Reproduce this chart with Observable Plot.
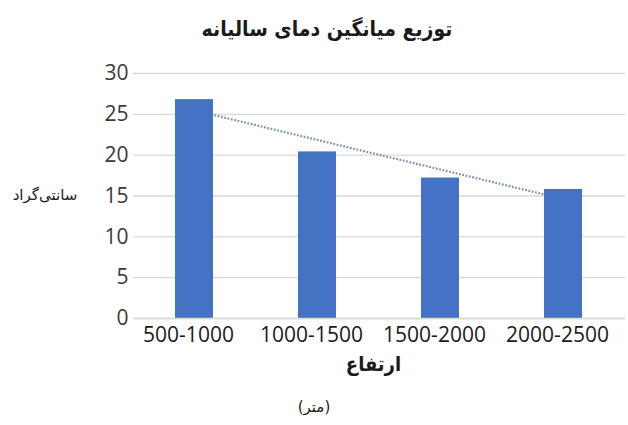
<!DOCTYPE html>
<html>
<head>
<meta charset="utf-8">
<script src="https://cdn.jsdelivr.net/npm/d3@7"></script>
<script src="https://cdn.jsdelivr.net/npm/@observablehq/plot@0.6"></script>
<style>
  html, body { margin: 0; padding: 0; background: #fff; }
  #wrap { width: 628px; height: 425px; position: relative; overflow: hidden; }
  #title { height: 50px; line-height: 58px; text-align: center; font-family: "DejaVu Sans Condensed", "DejaVu Sans", sans-serif; font-weight: bold; font-size: 21px; color: #1a1a1a; direction: rtl; padding-left: 26px; box-sizing: border-box; }
  #caption { text-align: center; font-family: "DejaVu Sans", sans-serif; font-size: 15px; color: #1a1a1a; direction: rtl; margin-top: 13px; }
  #ylabel { position: absolute; left: 4px; top: 186px; width: 82px; text-align: center; font-family: "DejaVu Sans", sans-serif; font-size: 15px; color: #1a1a1a; direction: rtl; white-space: nowrap; }
</style>
</head>
<body>
<div id="wrap">
  <div id="title"></div>
  <div id="chart"></div>
  <div id="caption"></div>
  <div id="ylabel"></div>
</div>
<script>
const titleText = "توزیع میانگین دمای سالیانه";
const yLabel = "سانتی‌گراد";
const xLabel = "ارتفاع";
const captionText = "(متر)";
const categories = ["500-1000", "1000-1500", "1500-2000", "2000-2500"];
const values = [26.8, 20.4, 17.2, 15.8];
const yTicks = [0, 5, 10, 15, 20, 25, 30];

document.getElementById("title").textContent = titleText;
document.getElementById("caption").textContent = captionText;
document.getElementById("ylabel").textContent = yLabel;

const data = categories.map((c, i) => ({category: c, value: values[i]}));

// linear trendline (least squares over category index)
const n = values.length;
const xs = values.map((_, i) => i + 1);
const mx = d3.mean(xs), my = d3.mean(values);
const slope = d3.sum(xs.map((x, i) => (x - mx) * (values[i] - my))) / d3.sum(xs.map(x => (x - mx) ** 2));
const intercept = my - slope * mx;
const trend = [
  {category: categories[0], value: intercept + slope * 1},
  {category: categories[n - 1], value: intercept + slope * n}
];

const textColor = "#3a3a3a";
const chart = Plot.plot({
  width: 628,
  height: 335,
  marginTop: 23,
  marginLeft: 133,
  marginRight: 3,
  marginBottom: 67,
  style: {fontFamily: "'Open Sans', sans-serif", background: "#fff", overflow: "visible"},
  x: {domain: categories, paddingInner: 0.69, paddingOuter: 0.345, label: null},
  y: {domain: [0, 30], label: null},
  marks: [
    Plot.gridY(yTicks, {stroke: "#d9d9d9", strokeOpacity: 1, strokeWidth: 1.3}),
    Plot.line(trend, {x: "category", y: "value", stroke: "#7f90b0", strokeWidth: 2.2, strokeDasharray: "1.8 1.6", strokeLinecap: "butt"}),
    Plot.barY(data, {x: "category", y: "value", fill: "#4472c4"}),
    Plot.ruleY([0], {stroke: "#d9d9d9", strokeWidth: 1.3}),
    Plot.axisY({ticks: yTicks, tickSize: 0, tickPadding: 5, fontSize: 21, fill: textColor, label: null}),
    Plot.axisX({tickSize: 0, tickPadding: 9, dx: -6, fontSize: 21, fill: "#1a1a1a", label: null, style: {letterSpacing: "1px"}}),
    Plot.text([xLabel], {frameAnchor: "bottom", dx: -6, dy: 52, fontSize: 20, fontWeight: "bold", fontFamily: "DejaVu Sans Condensed", fill: "#1a1a1a"})
  ]
});
document.getElementById("chart").appendChild(chart);
</script>
</body>
</html>
